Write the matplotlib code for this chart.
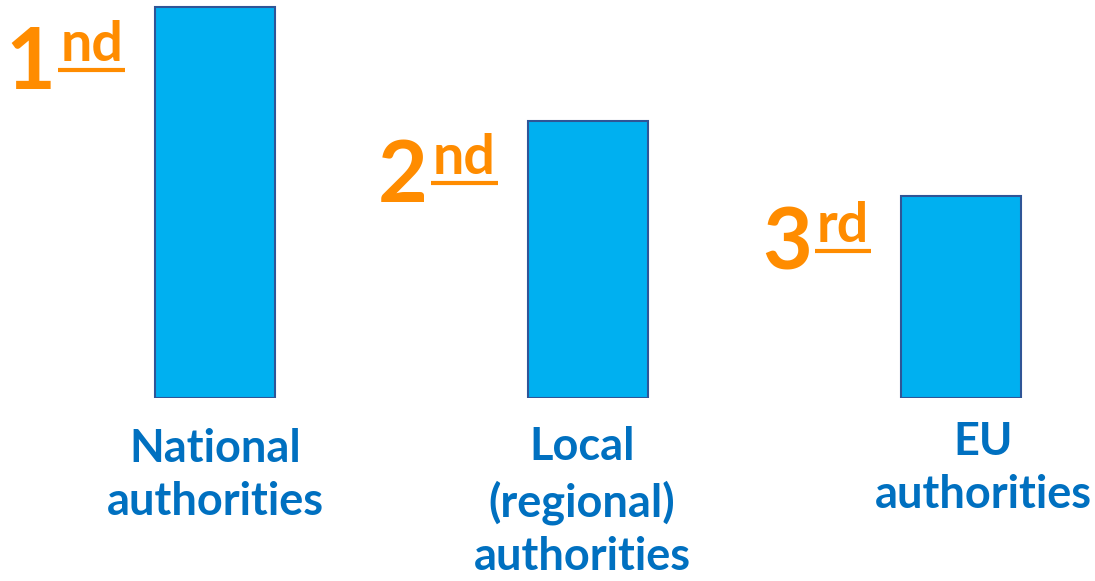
import matplotlib
matplotlib.use('Agg')
import matplotlib.pyplot as plt
from matplotlib.lines import Line2D

#________________Data___________________
categories = ['National\nauthorities', 'Local\n(regional)\nauthorities', 'EU\nauthorities']
values = [391, 277, 202]
rank_num = ['1', '2', '3']
rank_sup = ['nd', 'nd', 'rd']

#________________Style___________________
BAR_FILL = '#00B0F0'
BAR_EDGE = '#2F5597'
LABEL_BLUE = '#0070C0'
ORANGE = '#FF8C00'
FONT = 'Lato'

W, H = 1095, 581
fig = plt.figure(figsize=(W / 100, H / 100), dpi=100)
# axes: full width, bottom of bars at 398 px from top
ax = fig.add_axes([0, 183 / H, 1, 398 / H])
ax.set_xlim(-215 / 373, (W - 215) / 373)
ax.set_ylim(0, 398)
ax.axis('off')

x = list(range(len(values)))
bar_w = 120 / 373
ax.bar(x, values, width=bar_w, color=BAR_FILL, edgecolor=BAR_EDGE, linewidth=1.5)

# category labels under bars (small pixel shifts to follow the original)
label_dx = [0, -6, 22]
label_dy = [-30, -28, -23]
for i, lab in enumerate(categories):
    ax.annotate(lab, xy=(x[i], 0), xytext=(label_dx[i], label_dy[i]),
                textcoords='offset pixels', ha='center', va='top',
                fontsize=32.5, fontweight='bold', color=LABEL_BLUE,
                family=FONT, linespacing=1.33)

# rank labels: big digit + underlined superscript
rank_dy = [82, 81, 74]
sups = []
for i in range(len(values)):
    sup = ax.annotate(rank_sup[i], xy=(x[i] - bar_w / 2, values[i]),
                      xytext=(-32, -rank_dy[i] + 28), textcoords='offset pixels',
                      ha='right', va='baseline', fontsize=40, fontweight='bold',
                      color=ORANGE, family=FONT)
    ax.annotate(rank_num[i], xy=(0, values[i]), xycoords=(sup, 'data'),
                xytext=(-5, -rank_dy[i]), textcoords='offset pixels',
                ha='right', va='baseline', fontsize=62, fontweight='bold',
                color=ORANGE, family=FONT)
    sups.append(sup)

fig.canvas.draw()
r = fig.canvas.get_renderer()
inv = fig.transFigure.inverted()
for i, sup in enumerate(sups):
    bb = sup.get_window_extent(r)
    base = ax.transData.transform((0, values[i]))[1] - rank_dy[i] + 28
    y_line = base - 9
    (x0, y0), (x1, y1) = inv.transform([(bb.x0 - 2, y_line), (bb.x1 + 2, y_line)])
    fig.add_artist(Line2D([x0, x1], [y0, y1], color=ORANGE, linewidth=3,
                          solid_capstyle='butt'))

fig.savefig('out.png', dpi=100)
